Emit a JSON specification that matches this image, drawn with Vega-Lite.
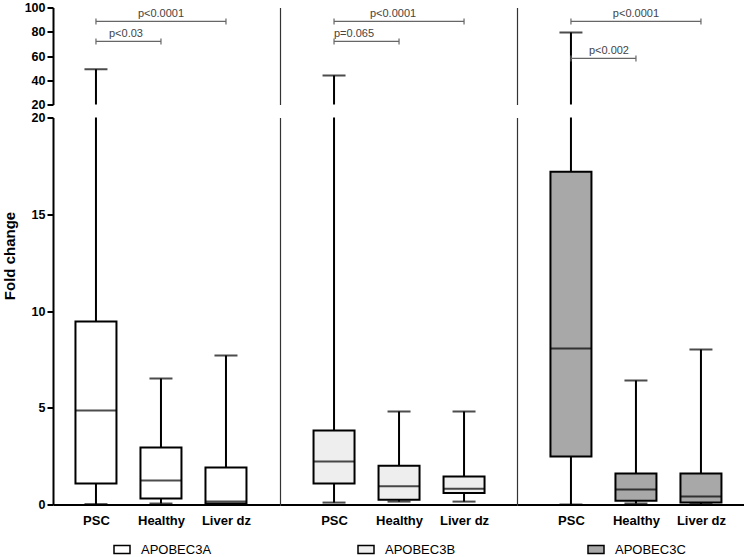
{
  "$schema": "https://vega.github.io/schema/vega-lite/v6.json",
  "padding": {"left": 2, "top": 1.5, "right": 0, "bottom": 0},
  "background": "white",
  "config": {
    "view": {"stroke": null},
    "font": "Liberation Sans",
    "axis": {"grid": false, "domainColor": "black", "domainWidth": 2, "tickColor": "black", "tickWidth": 2, "tickSize": 6, "labelFont": "Liberation Sans", "labelFontWeight": "bold", "labelFontSize": 13, "labelColor": "black", "labelPadding": 2, "labelOverlap": false},
    "axisY": {"labelFontSize": 12.5},
    "axisX": {"ticks": false, "labelPadding": 10, "labelAngle": 0}
  },
  "datasets": {
    "boxes": [
      {"gene": "APOBEC3A", "group": "PSC", "min": 0.02, "q1": 1.08, "median": 4.86, "q3": 9.46, "max": 49},
      {"gene": "APOBEC3A", "group": "Healthy", "min": 0.05, "q1": 0.31, "median": 1.24, "q3": 2.95, "max": 6.51},
      {"gene": "APOBEC3A", "group": "Liver dz", "min": 0.0, "q1": 0.05, "median": 0.15, "q3": 1.91, "max": 7.7},
      {"gene": "APOBEC3B", "group": "PSC", "min": 0.1, "q1": 1.08, "median": 2.22, "q3": 3.82, "max": 44},
      {"gene": "APOBEC3B", "group": "Healthy", "min": 0.15, "q1": 0.25, "median": 0.94, "q3": 2.0, "max": 4.81},
      {"gene": "APOBEC3B", "group": "Liver dz", "min": 0.15, "q1": 0.6, "median": 0.82, "q3": 1.45, "max": 4.81},
      {"gene": "APOBEC3C", "group": "PSC", "min": 0.0, "q1": 2.48, "median": 8.06, "q3": 17.2, "max": 79.4},
      {"gene": "APOBEC3C", "group": "Healthy", "min": 0.05, "q1": 0.2, "median": 0.78, "q3": 1.6, "max": 6.41},
      {"gene": "APOBEC3C", "group": "Liver dz", "min": 0.02, "q1": 0.1, "median": 0.41, "q3": 1.6, "max": 8.01}
    ],
    "pvals": [
      {"gene": "APOBEC3A", "kind": "long", "from": "PSC", "to": "Liver dz", "mid": "Healthy", "y": 88.5, "label": "p<0.0001"},
      {"gene": "APOBEC3A", "kind": "short", "from": "PSC", "to": "Healthy", "mid": "PSC", "y": 72, "label": "p<0.03"},
      {"gene": "APOBEC3B", "kind": "long", "from": "PSC", "to": "Liver dz", "mid": "Healthy", "y": 88.5, "label": "p<0.0001"},
      {"gene": "APOBEC3B", "kind": "short", "from": "PSC", "to": "Healthy", "mid": "PSC", "y": 72, "label": "p=0.065"},
      {"gene": "APOBEC3C", "kind": "long", "from": "PSC", "to": "Liver dz", "mid": "Healthy", "y": 88.5, "label": "p<0.0001"},
      {"gene": "APOBEC3C", "kind": "short", "from": "PSC", "to": "Healthy", "mid": "PSC", "y": 58, "label": "p<0.002"}
    ]
  },
  "columns": 3,
  "bounds": "flush",
  "align": "each",
  "spacing": {"row": 13, "column": 0},
  "resolve": {"scale": {"color": "independent"}, "legend": {"color": "independent"}},
  "concat": [
    {
      "width": 227, "height": 97,
      "layer": [
        {"data": {"name": "boxes"}, "transform": [{"filter": "datum.gene === 'APOBEC3A'"}],
         "mark": {"type": "rule", "clip": true, "stroke": "black", "strokeWidth": 2},
         "encoding": {
           "x": {"field": "group", "type": "nominal", "scale": {"type": "point", "domain": ["PSC", "Healthy", "Liver dz"], "padding": 0.746, "align": 0.443}, "axis": null},
           "y": {"field": "q3", "type": "quantitative", "scale": {"domain": [20, 100], "nice": false, "zero": false}, "axis": {"values": [20, 40, 60, 80, 100], "title": null, "labelOverlap": false, "tickCount": 5}},
           "y2": {"field": "max"}}},
        {"data": {"name": "boxes"}, "transform": [{"filter": "datum.gene === 'APOBEC3A'"}],
         "mark": {"type": "tick", "clip": true, "color": "black", "thickness": 2, "size": 23},
         "encoding": {
           "x": {"field": "group", "type": "nominal", "axis": null},
           "y": {"field": "max", "type": "quantitative"}}},
        {"data": {"name": "pvals"}, "transform": [{"filter": "datum.gene === 'APOBEC3A'"}],
         "mark": {"type": "rule", "stroke": "#666666", "strokeWidth": 1.2},
         "encoding": {
           "x": {"field": "from", "type": "nominal", "axis": null},
           "x2": {"field": "to"},
           "y": {"field": "y", "type": "quantitative"}}},
        {"data": {"name": "pvals"}, "transform": [{"filter": "datum.gene === 'APOBEC3A'"}],
         "mark": {"type": "point", "shape": "M0,-1L0,1", "size": 36, "filled": false, "color": "#666666", "strokeWidth": 1.2, "opacity": 1},
         "encoding": {
           "x": {"field": "from", "type": "nominal", "axis": null},
           "y": {"field": "y", "type": "quantitative"}}},
        {"data": {"name": "pvals"}, "transform": [{"filter": "datum.gene === 'APOBEC3A'"}],
         "mark": {"type": "point", "shape": "M0,-1L0,1", "size": 36, "filled": false, "color": "#666666", "strokeWidth": 1.2, "opacity": 1},
         "encoding": {
           "x": {"field": "to", "type": "nominal", "axis": null},
           "y": {"field": "y", "type": "quantitative"}}},
        {"data": {"name": "pvals"}, "transform": [{"filter": "datum.gene === 'APOBEC3A' && datum.kind === 'long'"}],
         "mark": {"type": "text", "baseline": "bottom", "dy": -2, "fontSize": 11, "color": "#444444", "font": "Liberation Sans"},
         "encoding": {
           "x": {"field": "mid", "type": "nominal", "axis": null},
           "y": {"field": "y", "type": "quantitative"},
           "text": {"field": "label"}}},
        {"data": {"name": "pvals"}, "transform": [{"filter": "datum.gene === 'APOBEC3A' && datum.kind === 'short'"}],
         "mark": {"type": "text", "baseline": "bottom", "dy": -2, "dx": 30, "fontSize": 11, "color": "#444444", "font": "Liberation Sans"},
         "encoding": {
           "x": {"field": "mid", "type": "nominal", "axis": null},
           "y": {"field": "y", "type": "quantitative"},
           "text": {"field": "label"}}}
      ]
    },
    {
      "width": 237, "height": 97,
      "layer": [
        {"data": {"name": "boxes"}, "transform": [{"filter": "datum.gene === 'APOBEC3B'"}],
         "mark": {"type": "rule", "clip": true, "stroke": "black", "strokeWidth": 2},
         "encoding": {
           "x": {"field": "group", "type": "nominal", "scale": {"type": "point", "domain": ["PSC", "Healthy", "Liver dz"], "padding": 0.823, "align": 0.505}, "axis": null},
           "y": {"field": "q3", "type": "quantitative", "scale": {"domain": [20, 100], "nice": false, "zero": false}, "axis": {"labels": false, "ticks": false, "domainWidth": 1.2, "domainColor": "#333333", "title": null}},
           "y2": {"field": "max"}}},
        {"data": {"name": "boxes"}, "transform": [{"filter": "datum.gene === 'APOBEC3B'"}],
         "mark": {"type": "tick", "clip": true, "color": "black", "thickness": 2, "size": 23},
         "encoding": {
           "x": {"field": "group", "type": "nominal", "axis": null},
           "y": {"field": "max", "type": "quantitative"}}},
        {"data": {"name": "pvals"}, "transform": [{"filter": "datum.gene === 'APOBEC3B'"}],
         "mark": {"type": "rule", "stroke": "#666666", "strokeWidth": 1.2},
         "encoding": {
           "x": {"field": "from", "type": "nominal", "axis": null},
           "x2": {"field": "to"},
           "y": {"field": "y", "type": "quantitative"}}},
        {"data": {"name": "pvals"}, "transform": [{"filter": "datum.gene === 'APOBEC3B'"}],
         "mark": {"type": "point", "shape": "M0,-1L0,1", "size": 36, "filled": false, "color": "#666666", "strokeWidth": 1.2, "opacity": 1},
         "encoding": {
           "x": {"field": "from", "type": "nominal", "axis": null},
           "y": {"field": "y", "type": "quantitative"}}},
        {"data": {"name": "pvals"}, "transform": [{"filter": "datum.gene === 'APOBEC3B'"}],
         "mark": {"type": "point", "shape": "M0,-1L0,1", "size": 36, "filled": false, "color": "#666666", "strokeWidth": 1.2, "opacity": 1},
         "encoding": {
           "x": {"field": "to", "type": "nominal", "axis": null},
           "y": {"field": "y", "type": "quantitative"}}},
        {"data": {"name": "pvals"}, "transform": [{"filter": "datum.gene === 'APOBEC3B' && datum.kind === 'long'"}],
         "mark": {"type": "text", "baseline": "bottom", "dy": -2, "dx": -6, "fontSize": 11, "color": "#444444", "font": "Liberation Sans"},
         "encoding": {
           "x": {"field": "mid", "type": "nominal", "axis": null},
           "y": {"field": "y", "type": "quantitative"},
           "text": {"field": "label"}}},
        {"data": {"name": "pvals"}, "transform": [{"filter": "datum.gene === 'APOBEC3B' && datum.kind === 'short'"}],
         "mark": {"type": "text", "baseline": "bottom", "dy": -2, "dx": 20, "fontSize": 11, "color": "#444444", "font": "Liberation Sans"},
         "encoding": {
           "x": {"field": "mid", "type": "nominal", "axis": null},
           "y": {"field": "y", "type": "quantitative"},
           "text": {"field": "label"}}}
      ]
    },
    {
      "width": 229, "height": 97,
      "layer": [
        {"data": {"name": "boxes"}, "transform": [{"filter": "datum.gene === 'APOBEC3C'"}],
         "mark": {"type": "rule", "clip": true, "stroke": "black", "strokeWidth": 2},
         "encoding": {
           "x": {"field": "group", "type": "nominal", "scale": {"type": "point", "domain": ["PSC", "Healthy", "Liver dz"], "padding": 0.7615, "align": 0.545}, "axis": null},
           "y": {"field": "q3", "type": "quantitative", "scale": {"domain": [20, 100], "nice": false, "zero": false}, "axis": {"labels": false, "ticks": false, "domainWidth": 1.2, "domainColor": "#333333", "title": null}},
           "y2": {"field": "max"}}},
        {"data": {"name": "boxes"}, "transform": [{"filter": "datum.gene === 'APOBEC3C'"}],
         "mark": {"type": "tick", "clip": true, "color": "black", "thickness": 2, "size": 23},
         "encoding": {
           "x": {"field": "group", "type": "nominal", "axis": null},
           "y": {"field": "max", "type": "quantitative"}}},
        {"data": {"name": "pvals"}, "transform": [{"filter": "datum.gene === 'APOBEC3C'"}],
         "mark": {"type": "rule", "stroke": "#666666", "strokeWidth": 1.2},
         "encoding": {
           "x": {"field": "from", "type": "nominal", "axis": null},
           "x2": {"field": "to"},
           "y": {"field": "y", "type": "quantitative"}}},
        {"data": {"name": "pvals"}, "transform": [{"filter": "datum.gene === 'APOBEC3C'"}],
         "mark": {"type": "point", "shape": "M0,-1L0,1", "size": 36, "filled": false, "color": "#666666", "strokeWidth": 1.2, "opacity": 1},
         "encoding": {
           "x": {"field": "from", "type": "nominal", "axis": null},
           "y": {"field": "y", "type": "quantitative"}}},
        {"data": {"name": "pvals"}, "transform": [{"filter": "datum.gene === 'APOBEC3C'"}],
         "mark": {"type": "point", "shape": "M0,-1L0,1", "size": 36, "filled": false, "color": "#666666", "strokeWidth": 1.2, "opacity": 1},
         "encoding": {
           "x": {"field": "to", "type": "nominal", "axis": null},
           "y": {"field": "y", "type": "quantitative"}}},
        {"data": {"name": "pvals"}, "transform": [{"filter": "datum.gene === 'APOBEC3C' && datum.kind === 'long'"}],
         "mark": {"type": "text", "baseline": "bottom", "dy": -2, "fontSize": 11, "color": "#444444", "font": "Liberation Sans"},
         "encoding": {
           "x": {"field": "mid", "type": "nominal", "axis": null},
           "y": {"field": "y", "type": "quantitative"},
           "text": {"field": "label"}}},
        {"data": {"name": "pvals"}, "transform": [{"filter": "datum.gene === 'APOBEC3C' && datum.kind === 'short'"}],
         "mark": {"type": "text", "baseline": "bottom", "dy": -2, "dx": 38, "fontSize": 11, "color": "#444444", "font": "Liberation Sans"},
         "encoding": {
           "x": {"field": "mid", "type": "nominal", "axis": null},
           "y": {"field": "y", "type": "quantitative"},
           "text": {"field": "label"}}}
      ]
    },
    {
      "width": 227, "height": 387,
      "data": {"name": "boxes"},
      "transform": [{"filter": "datum.gene === 'APOBEC3A'"}],
      "layer": [
        {"mark": {"type": "rule", "stroke": "black", "strokeWidth": 2},
         "encoding": {
           "x": {"field": "group", "type": "nominal", "scale": {"type": "point", "domain": ["PSC", "Healthy", "Liver dz"], "padding": 0.746, "align": 0.443}, "axis": {"title": null}},
           "y": {"field": "min", "type": "quantitative", "scale": {"domain": [0, 20], "nice": false}, "axis": {"values": [0, 5, 10, 15, 20], "labelOverlap": false, "title": "Fold change", "titleX": -36, "titleY": 138, "titleFontSize": 15, "titleFontWeight": "bold", "titleColor": "black", "titleFont": "Liberation Sans", "titleBaseline": "bottom", "titleAngle": -90}},
           "y2": {"field": "q1"}}},
        {"mark": {"type": "rule", "clip": true, "stroke": "black", "strokeWidth": 2},
         "encoding": {
           "x": {"field": "group", "type": "nominal"},
           "y": {"field": "q3", "type": "quantitative"},
           "y2": {"field": "max"}}},
        {"mark": {"type": "bar", "size": 41, "stroke": "black", "strokeWidth": 2},
         "encoding": {
           "x": {"field": "group", "type": "nominal"},
           "y": {"field": "q1", "type": "quantitative"},
           "y2": {"field": "q3"},
           "color": {"field": "gene", "type": "nominal", "scale": {"domain": ["APOBEC3A"], "range": ["#ffffff"]},
             "legend": {"orient": "none", "legendX": 60, "legendY": 423, "title": null, "symbolType": "M-1,-0.5H1V0.5H-1Z", "symbolSize": 256, "symbolStrokeColor": "black", "symbolStrokeWidth": 1.5, "labelFont": "Liberation Sans", "labelFontSize": 13, "labelColor": "black", "labelOffset": 10, "padding": 0}}}},
        {"mark": {"type": "tick", "color": "black", "thickness": 2, "size": 41},
         "encoding": {
           "x": {"field": "group", "type": "nominal"},
           "y": {"field": "median", "type": "quantitative"}}},
        {"mark": {"type": "tick", "color": "black", "thickness": 2, "size": 23},
         "encoding": {
           "x": {"field": "group", "type": "nominal"},
           "y": {"field": "min", "type": "quantitative"}}},
        {"mark": {"type": "tick", "clip": true, "color": "black", "thickness": 2, "size": 23},
         "encoding": {
           "x": {"field": "group", "type": "nominal"},
           "y": {"field": "max", "type": "quantitative"}}}
      ]
    },
    {
      "width": 237, "height": 387,
      "data": {"name": "boxes"},
      "transform": [{"filter": "datum.gene === 'APOBEC3B'"}],
      "layer": [
        {"mark": {"type": "rule", "stroke": "black", "strokeWidth": 2},
         "encoding": {
           "x": {"field": "group", "type": "nominal", "scale": {"type": "point", "domain": ["PSC", "Healthy", "Liver dz"], "padding": 0.823, "align": 0.505}, "axis": {"title": null}},
           "y": {"field": "min", "type": "quantitative", "scale": {"domain": [0, 20], "nice": false}, "axis": {"labels": false, "ticks": false, "domainWidth": 1.2, "domainColor": "#333333", "title": null}},
           "y2": {"field": "q1"}}},
        {"mark": {"type": "rule", "clip": true, "stroke": "black", "strokeWidth": 2},
         "encoding": {
           "x": {"field": "group", "type": "nominal"},
           "y": {"field": "q3", "type": "quantitative"},
           "y2": {"field": "max"}}},
        {"mark": {"type": "bar", "size": 41, "stroke": "black", "strokeWidth": 2},
         "encoding": {
           "x": {"field": "group", "type": "nominal"},
           "y": {"field": "q1", "type": "quantitative"},
           "y2": {"field": "q3"},
           "color": {"field": "gene", "type": "nominal", "scale": {"domain": ["APOBEC3B"], "range": ["#eeeeee"]},
             "legend": {"orient": "none", "legendX": 77, "legendY": 423, "title": null, "symbolType": "M-1,-0.5H1V0.5H-1Z", "symbolSize": 256, "symbolStrokeColor": "black", "symbolStrokeWidth": 1.5, "labelFont": "Liberation Sans", "labelFontSize": 13, "labelColor": "black", "labelOffset": 10, "padding": 0}}}},
        {"mark": {"type": "tick", "color": "black", "thickness": 2, "size": 41},
         "encoding": {
           "x": {"field": "group", "type": "nominal"},
           "y": {"field": "median", "type": "quantitative"}}},
        {"mark": {"type": "tick", "color": "black", "thickness": 2, "size": 23},
         "encoding": {
           "x": {"field": "group", "type": "nominal"},
           "y": {"field": "min", "type": "quantitative"}}},
        {"mark": {"type": "tick", "clip": true, "color": "black", "thickness": 2, "size": 23},
         "encoding": {
           "x": {"field": "group", "type": "nominal"},
           "y": {"field": "max", "type": "quantitative"}}}
      ]
    },
    {
      "width": 229, "height": 387,
      "data": {"name": "boxes"},
      "transform": [{"filter": "datum.gene === 'APOBEC3C'"}],
      "layer": [
        {"mark": {"type": "rule", "stroke": "black", "strokeWidth": 2},
         "encoding": {
           "x": {"field": "group", "type": "nominal", "scale": {"type": "point", "domain": ["PSC", "Healthy", "Liver dz"], "padding": 0.7615, "align": 0.545}, "axis": {"title": null}},
           "y": {"field": "min", "type": "quantitative", "scale": {"domain": [0, 20], "nice": false}, "axis": {"labels": false, "ticks": false, "domainWidth": 1.2, "domainColor": "#333333", "title": null}},
           "y2": {"field": "q1"}}},
        {"mark": {"type": "rule", "clip": true, "stroke": "black", "strokeWidth": 2},
         "encoding": {
           "x": {"field": "group", "type": "nominal"},
           "y": {"field": "q3", "type": "quantitative"},
           "y2": {"field": "max"}}},
        {"mark": {"type": "bar", "size": 41, "stroke": "black", "strokeWidth": 2},
         "encoding": {
           "x": {"field": "group", "type": "nominal"},
           "y": {"field": "q1", "type": "quantitative"},
           "y2": {"field": "q3"},
           "color": {"field": "gene", "type": "nominal", "scale": {"domain": ["APOBEC3C"], "range": ["#a8a8a8"]},
             "legend": {"orient": "none", "legendX": 70, "legendY": 423, "title": null, "symbolType": "M-1,-0.5H1V0.5H-1Z", "symbolSize": 256, "symbolStrokeColor": "black", "symbolStrokeWidth": 1.5, "labelFont": "Liberation Sans", "labelFontSize": 13, "labelColor": "black", "labelOffset": 10, "padding": 0}}}},
        {"mark": {"type": "tick", "color": "black", "thickness": 2, "size": 41},
         "encoding": {
           "x": {"field": "group", "type": "nominal"},
           "y": {"field": "median", "type": "quantitative"}}},
        {"mark": {"type": "tick", "color": "black", "thickness": 2, "size": 23},
         "encoding": {
           "x": {"field": "group", "type": "nominal"},
           "y": {"field": "min", "type": "quantitative"}}},
        {"mark": {"type": "tick", "clip": true, "color": "black", "thickness": 2, "size": 23},
         "encoding": {
           "x": {"field": "group", "type": "nominal"},
           "y": {"field": "max", "type": "quantitative"}}}
      ]
    }
  ]
}
